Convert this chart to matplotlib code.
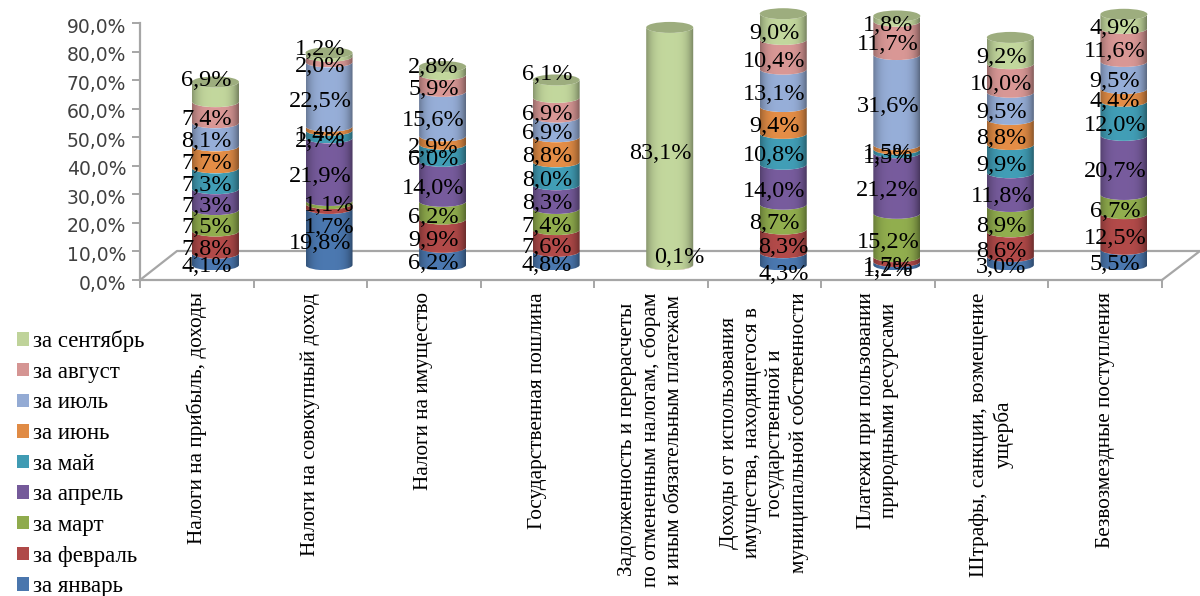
import matplotlib
matplotlib.use("Agg")
import matplotlib.pyplot as plt
import numpy as np
from matplotlib.patches import PathPatch, Ellipse, Patch
from matplotlib.path import Path
from matplotlib.transforms import ScaledTranslation

plt.rcParams['font.family'] = ['Liberation Serif', 'DejaVu Serif']

categories = [
    "Налоги на прибыль, доходы",
    "Налоги на совокупный доход",
    "Налоги на имущество",
    "Государственная пошлина",
    "Задолженность и перерасчеты\nпо отмененным налогам, сборам\nи иным обязательным платежам",
    "Доходы от использования\nимущества, находящегося в\nгосударственной и\nмуниципальной собственности",
    "Платежи при пользовании\nприродными ресурсами",
    "Штрафы, санкции, возмещение\nущерба",
    "Безвозмездные поступления",
]
months = ["за январь", "за февраль", "за март", "за апрель", "за май",
          "за июнь", "за июль", "за август", "за сентябрь"]

january = [4.1, 19.8, 6.2, 4.8, 0, 4.3, 1.2, 3.0, 5.5]
february = [7.8, 1.7, 9.9, 7.6, 0, 8.3, 1.7, 8.6, 12.5]
march = [7.5, 1.1, 6.2, 7.4, 0, 8.7, 15.2, 8.9, 6.7]
april = [7.3, 21.9, 14.0, 8.3, 0, 14.0, 21.2, 11.8, 20.7]
may = [7.3, 2.7, 6.0, 8.0, 0, 10.8, 1.3, 9.9, 12.0]
june = [7.7, 1.4, 2.9, 8.8, 0, 9.4, 1.5, 8.8, 4.4]
july = [8.1, 22.5, 15.6, 6.9, 0, 13.1, 31.6, 9.5, 9.5]
august = [7.4, 2.0, 5.9, 6.9, 0.1, 10.4, 11.7, 10.0, 11.6]
september = [6.9, 1.2, 2.8, 6.1, 83.1, 9.0, 1.8, 9.2, 4.9]

series = np.array([january, february, march, april, may, june, july, august, september])
colors = ['#4A76AD', '#AF4948', '#8FAB4D', '#755A9A', '#409BB3',
          '#E08B45', '#94ABD4', '#D59593', '#BFD39A']
yticks = np.arange(0, 100, 10)
ytick_labels = ["0,0%", "10,0%", "20,0%", "30,0%", "40,0%", "50,0%", "60,0%", "70,0%", "80,0%", "90,0%"]

# some labels get pushed around by Excel, (column, month): (dx, dy) in pixels
label_shift = {
    (0, 8): (0, 18), (1, 8): (0, 12), (2, 8): (0, 10), (3, 8): (0, 21),
    (4, 7): (19, 14), (1, 1): (9, -14), (1, 2): (9, 4),
    (5, 0): (9, -9), (5, 1): (9, 0),
}

W, H = 1200, 596
grey = '#A6A6A6'
fig = plt.figure(figsize=(W / 100, H / 100), dpi=100)
ax = fig.add_axes([140 / W, (H - 280) / H, 1022 / W, 257 / H])
ax.set_xlim(0, 9)
ax.set_ylim(0, 90)

px_x = 9 / 1022
px_y = 90 / 257
half_w = 23.5 * px_x
half_h = 5.5 * px_y
shift_x = 18.7 * px_x
base_y = 15 * px_y
k = 0.5523


def segment_path(xc, y0, y1):
    # front face of a cylinder slice, both edges bow downward
    xl, xr = xc - half_w, xc + half_w
    verts = [(xl, y0),
             (xl, y0 - k * half_h), (xc - k * half_w, y0 - half_h), (xc, y0 - half_h),
             (xc + k * half_w, y0 - half_h), (xr, y0 - k * half_h), (xr, y0),
             (xr, y1),
             (xr, y1 - k * half_h), (xc + k * half_w, y1 - half_h), (xc, y1 - half_h),
             (xc - k * half_w, y1 - half_h), (xl, y1 - k * half_h), (xl, y1),
             (xl, y0)]
    codes = [Path.MOVETO] + [Path.CURVE4] * 6 + [Path.LINETO] + [Path.CURVE4] * 6 + [Path.CLOSEPOLY]
    return Path(verts, codes)


# brightness across the cylinder, darker toward the edges
u = np.linspace(-1, 1, 64)
shade = 1.02 - 0.30 * np.abs(u) ** 3.5
shade[u > 0] -= 0.10 * u[u > 0] ** 4

for col in range(series.shape[1]):
    xc = col + 0.5 + shift_x
    bottom = base_y
    top_month = 0
    for m in range(series.shape[0]):
        v = series[m, col]
        if v == 0:
            continue
        top = bottom + v
        rgb = np.array(matplotlib.colors.to_rgb(colors[m]))
        grad = np.clip(rgb[None, None, :] * shade[None, :, None], 0, 1)
        im = ax.imshow(grad, extent=[xc - half_w, xc + half_w, bottom - half_h, top + half_h],
                       aspect='auto', zorder=3, interpolation='bilinear')
        patch = PathPatch(segment_path(xc, bottom, top), transform=ax.transData,
                          facecolor='none', edgecolor='none', clip_on=False)
        ax.add_patch(patch)
        # the tallest columns rise above the axes box
        im.set_clip_box(fig.bbox)
        im.set_clip_path(patch)
        bottom = top
        top_month = m
    cap = np.array(matplotlib.colors.to_rgb(colors[top_month])) * 0.82
    ax.add_patch(Ellipse((xc, bottom), 2 * half_w, 2 * half_h, facecolor=cap,
                         edgecolor='none', zorder=4, clip_on=False))

ax.set_xlim(0, 9)
ax.set_ylim(0, 90)

# value labels
for col in range(series.shape[1]):
    cum = 0
    for m in range(series.shape[0]):
        v = series[m, col]
        if v == 0:
            continue
        dx, dy = label_shift.get((col, m), (0, 0))
        x = col + 0.5 + shift_x + (dx - 9) * px_x
        y = 8 * px_y + cum + v / 2 + dy * px_y
        ax.text(x, y, f"{v:.1f}%".replace('.', ','), ha='center', va='center',
                fontsize=17.5, color='black', zorder=6, clip_on=False)
        cum += v

# axes and floor
for s in ['top', 'right']:
    ax.spines[s].set_visible(False)
for s in ['left', 'bottom']:
    ax.spines[s].set_color(grey)
    ax.spines[s].set_linewidth(1.6)
ax.set_yticks(yticks, ytick_labels, family='DejaVu Sans', fontsize=13.5, color='#404040')
ax.tick_params(axis='y', length=6, width=1.4, color=grey, pad=4)
for lab in ax.get_yticklabels():
    lab.set_transform(lab.get_transform() + ScaledTranslation(0, -1.5 / 72, fig.dpi_scale_trans))
ax.set_xticks(np.arange(0, 10), minor=True)
ax.tick_params(axis='x', which='minor', length=6, width=1.4, color=grey)
ax.set_xticks(np.arange(9) + 0.5, categories, rotation=90, ma='center', fontsize=15.3, color='black',
              linespacing=1.25)
ax.tick_params(axis='x', which='major', length=0, pad=9)

floor_x = np.array([0, 37, 1060, 1022]) / 1022
floor_y = np.array([0, 29, 29, 0]) / 257
ax.plot(floor_x, floor_y, color=grey, lw=1.6, transform=ax.transAxes, clip_on=False, zorder=1)

handles = [Patch(facecolor=c, edgecolor='none', label=l) for c, l in zip(colors[::-1], months[::-1])]
fig.legend(handles=handles, loc='upper left', bbox_to_anchor=(8 / W, 1 - 321 / H), frameon=False,
           fontsize=16.5, labelspacing=0.42, handlelength=0.52, handleheight=0.52,
           handletextpad=0.15, borderpad=0.4, borderaxespad=0)

fig.savefig("out.png", dpi=100)
